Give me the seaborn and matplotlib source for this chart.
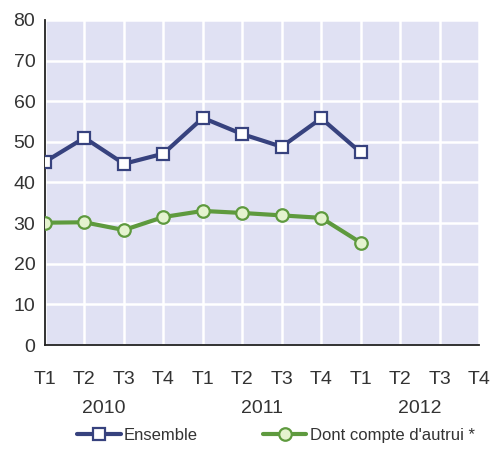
import numpy as np
import pandas as pd
import matplotlib
matplotlib.use('Agg')
import matplotlib.pyplot as plt
import seaborn as sns

# data
quarters = ['T1', 'T2', 'T3', 'T4'] * 3
years = ['2010', '2011', '2012']
ensemble = [45.1, 51.0, 44.6, 47.1, 55.9, 51.9, 48.8, 55.8, 47.4]
autrui = [30.1, 30.2, 28.3, 31.5, 33.0, 32.5, 31.9, 31.3, 25.2]
series_names = ['Ensemble', "Dont compte d'autrui *"]

sns.set_style('white')
plt.rcParams['font.family'] = ['Liberation Sans Narrow', 'Liberation Sans', 'DejaVu Sans']

df = pd.DataFrame({
    'x': list(range(len(ensemble))) * 2,
    'val': ensemble + autrui,
    'serie': [series_names[0]] * len(ensemble) + [series_names[1]] * len(autrui),
})

fig = plt.figure(figsize=(4.92, 4.51), dpi=100)
ax = fig.add_axes([0.0915, 0.235, 0.8821, 0.7207])
ax.set_facecolor('#e0e1f3')

blue = '#37427e'
green = '#5e9a3e'
sns.lineplot(data=df[df.serie == series_names[0]], x='x', y='val', ax=ax,
             color=blue, lw=3, marker='s', markersize=9, markerfacecolor='white',
             markeredgecolor=blue, markeredgewidth=1.6, label=series_names[0], zorder=4)
sns.lineplot(data=df[df.serie == series_names[1]], x='x', y='val', ax=ax,
             color=green, lw=3, marker='o', markersize=9, markerfacecolor='#e4f3cf',
             markeredgecolor=green, markeredgewidth=1.6, label=series_names[1], zorder=4)

ax.set_xlim(0, 11)
ax.set_ylim(0, 80)
ax.set_xticks(range(12))
ax.set_xticklabels(quarters)
ax.set_yticks(range(0, 81, 10))
ax.grid(True, color='white', lw=1.8)
ax.set_axisbelow(True)
ax.set_xlabel('')
ax.set_ylabel('')
for s in ['top', 'right']:
    ax.spines[s].set_visible(False)
for s in ['left', 'bottom']:
    ax.spines[s].set_color('#222222')
    ax.spines[s].set_linewidth(1.3)
ax.tick_params(axis='both', direction='inout', length=10, width=1.3,
               color='#222222', labelsize=14, labelcolor='#333333')
ax.tick_params(axis='x', pad=14)
ax.tick_params(axis='y', pad=2)

for i, yr in enumerate(years):
    ax.text(4 * i + 1.5, -0.195, yr, transform=ax.get_xaxis_transform(),
            ha='center', va='center', fontsize=14, color='#333333')

ax.get_legend().remove()
h, l = ax.get_legend_handles_labels()
fig.legend(h, l, loc='center', bbox_to_anchor=(0.561, 0.035), ncol=2, frameon=False,
           fontsize=12, handlelength=2.6, columnspacing=3.9, handletextpad=0.2,
           labelcolor='#333333')

fig.savefig('out.png', dpi=100)
